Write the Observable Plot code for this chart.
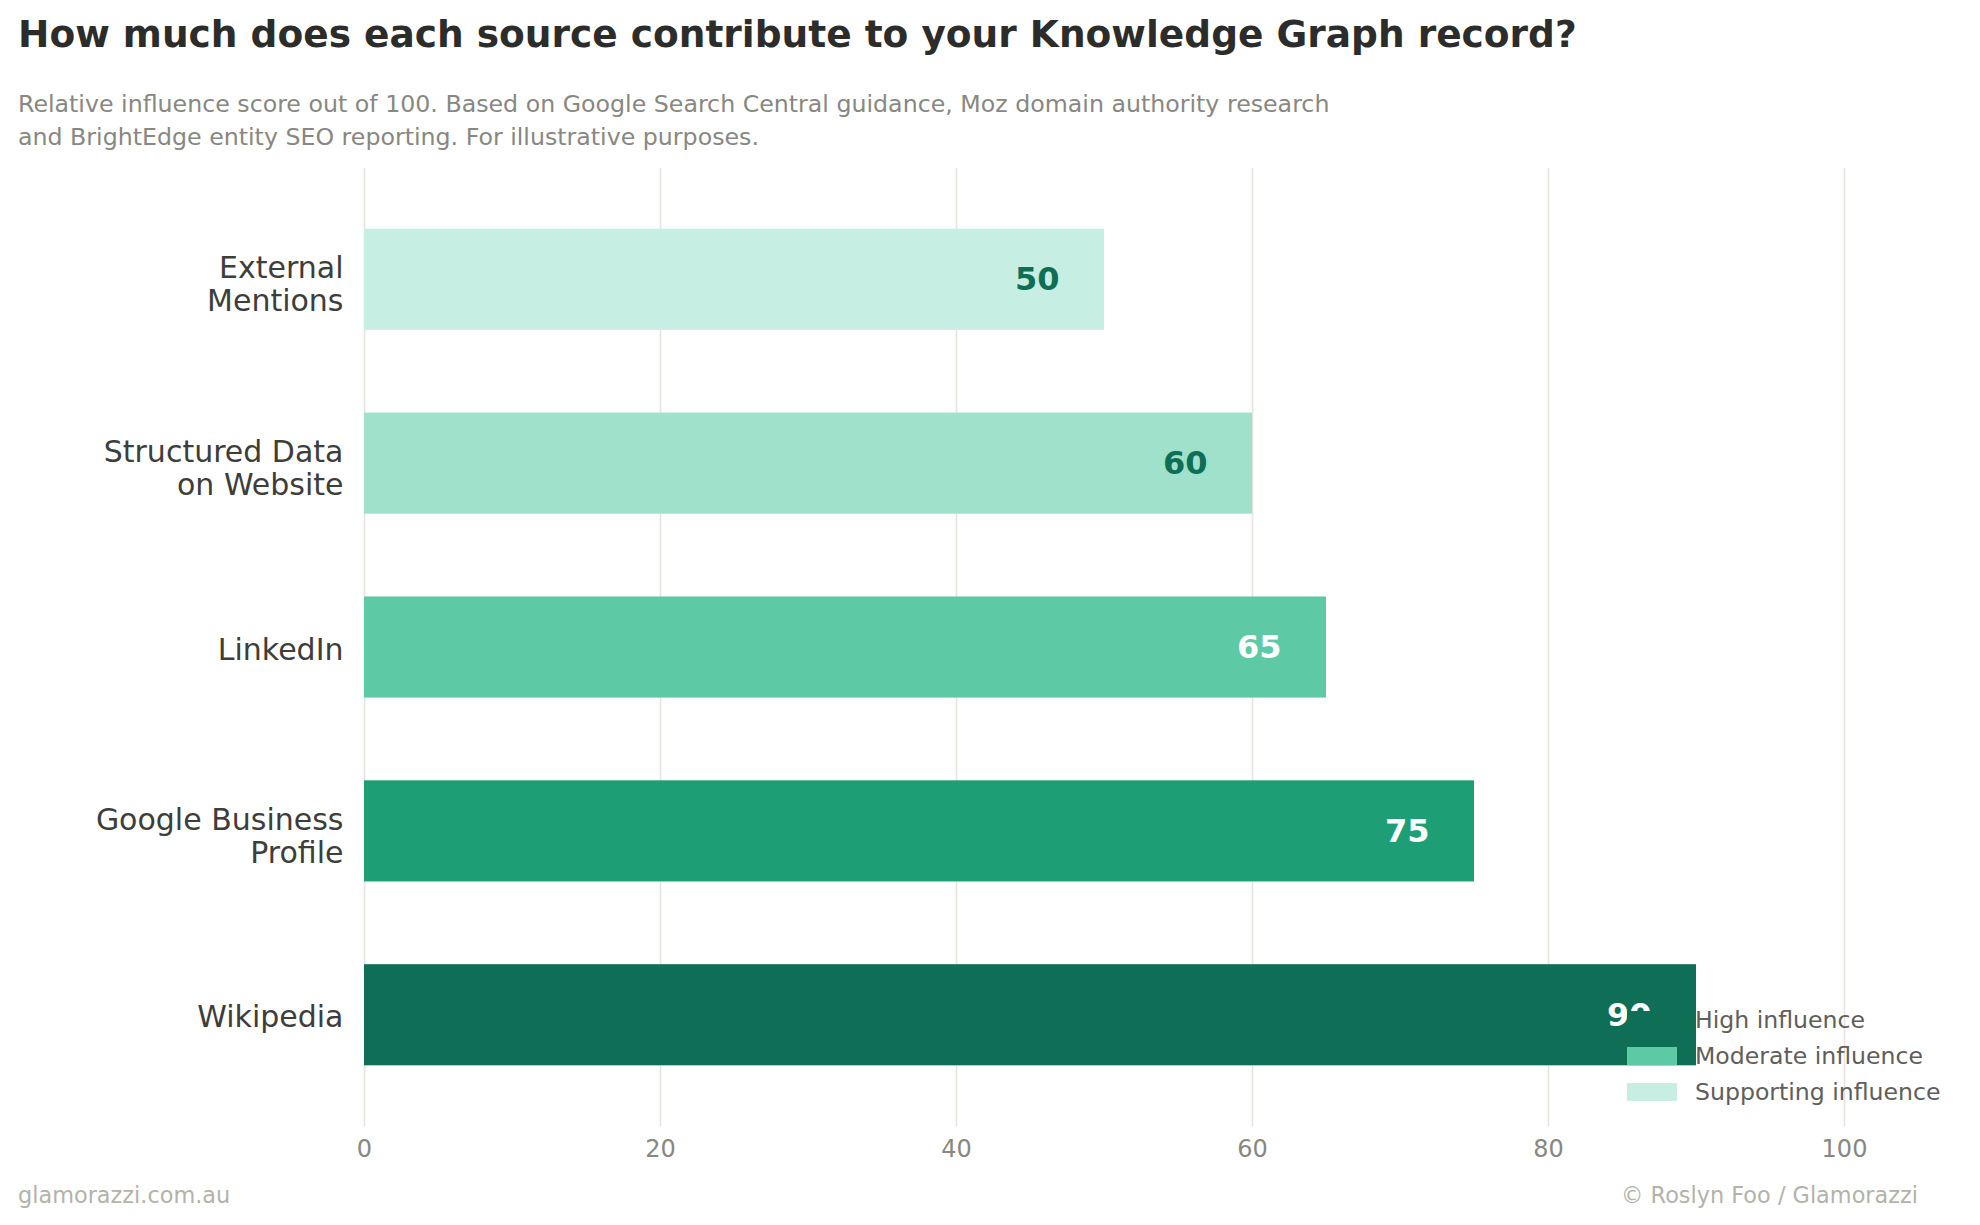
<!DOCTYPE html>
<html>
<head>
<meta charset="utf-8">
<script src="https://cdn.jsdelivr.net/npm/d3@7"></script>
<script src="https://cdn.jsdelivr.net/npm/@observablehq/plot@0.6"></script>
<style>
  html, body { margin: 0; padding: 0; background: #ffffff; overflow: hidden; }
  body { width: 1980px; height: 1225px; position: relative; font-family: "DejaVu Sans", sans-serif; }
  #title { position: absolute; left: 18px; top: 12px; font-size: 37.5px; line-height: 44px; font-weight: bold; color: #2c2c2a; white-space: nowrap; }
  #subtitle { position: absolute; left: 18px; top: 88px; font-size: 23.7px; line-height: 33px; color: #888780; }
  #chart { position: absolute; left: 0; top: 150px; }
  #legend { position: absolute; left: 1627px; top: 1002px; font-size: 23.6px; color: #5f5e5a; }
  .lrow { position: relative; height: 36px; }
  .lsw { position: absolute; left: 0; top: 9px; width: 50px; height: 18px; }
  .ltx { position: absolute; left: 68px; top: 0; line-height: 36px; white-space: nowrap; }
  .foot { position: absolute; top: 1182px; font-size: 22.4px; line-height: 26px; color: #b4b2a9; white-space: nowrap; }
</style>
</head>
<body>
<div id="title"></div>
<div id="subtitle"></div>
<div id="chart"></div>
<div id="legend"></div>
<div class="foot" id="footLeft" style="left:18px;"></div>
<div class="foot" id="footRight" style="right:62px;"></div>
<script>
// ---- Data ----
const sources = ["External\nMentions", "Structured Data\non Website", "LinkedIn", "Google Business\nProfile", "Wikipedia"];
const scores = [50, 60, 65, 75, 90];
const xTicks = [0, 20, 40, 60, 80, 100];
const legendLabels = ["High influence", "Moderate influence", "Supporting influence"];

const titleText = "How much does each source contribute to your Knowledge Graph record?";
const subtitleLines = [
  "Relative influence score out of 100. Based on Google Search Central guidance, Moz domain authority research",
  "and BrightEdge entity SEO reporting. For illustrative purposes."
];
const footerLeft = "glamorazzi.com.au";
const footerRight = "© Roslyn Foo / Glamorazzi";

// ---- Styles ----
const barPalette = ["#c6eee2", "#9fe1cb", "#5dcaa5", "#1d9e75", "#0f6e56"];
const legendPalette = ["#0f6e56", "#5dcaa5", "#c6eee2"];
const darkGreen = "#0f6e56";

const data = sources.map((s, i) => ({source: s, score: scores[i], shade: i}));
const multiLine = sources.filter(s => s.includes("\n"));
const singleLine = sources.filter(s => !s.includes("\n"));

document.getElementById("title").textContent = titleText;
document.getElementById("subtitle").innerHTML = subtitleLines.map(l => l.replace(/&/g, "&amp;")).join("<br>");
document.getElementById("footLeft").textContent = footerLeft;
document.getElementById("footRight").textContent = footerRight;

const yAxisStyle = {tickSize: 0, tickPadding: 21, fontSize: 30, fill: "#3d3d3a", lineHeight: 1.1, label: null};

const chart = Plot.plot({
  width: 1980,
  height: 1020,
  marginLeft: 364,
  marginRight: 136,
  marginTop: 18,
  marginBottom: 44,
  style: {fontFamily: "DejaVu Sans, sans-serif", background: "white"},
  x: {domain: [0, 100]},
  y: {domain: sources, paddingInner: 0.45, paddingOuter: 0.33, round: false},
  color: {domain: sources, range: barPalette},
  marks: [
    Plot.gridX(xTicks, {stroke: "#e6e3dd", strokeOpacity: 1, strokeWidth: 1.6}),
    Plot.barX(data, {x: "score", y: "source", fill: "source"}),
    Plot.text(data, {
      x: "score", y: "source",
      text: d => String(d.score),
      textAnchor: "end", dx: -45, dy: 0,
      fontSize: 32, fontWeight: "bold",
      fill: d => d.shade >= 2 ? "#ffffff" : darkGreen
    }),
    Plot.axisX({ticks: xTicks, tickSize: 0, tickPadding: 13, fontSize: 24, fill: "#888780", label: null}),
    Plot.axisY({...yAxisStyle, ticks: multiLine, dy: 4.5}),
    Plot.axisY({...yAxisStyle, ticks: singleLine, dy: 1.5})
  ]
});
document.getElementById("chart").appendChild(chart);

const legend = d3.select("#legend");
legendLabels.forEach((lab, i) => {
  const row = legend.append("div").attr("class", "lrow");
  row.append("div").attr("class", "lsw").style("background", legendPalette[i]);
  row.append("div").attr("class", "ltx").text(lab);
});
</script>
</body>
</html>
